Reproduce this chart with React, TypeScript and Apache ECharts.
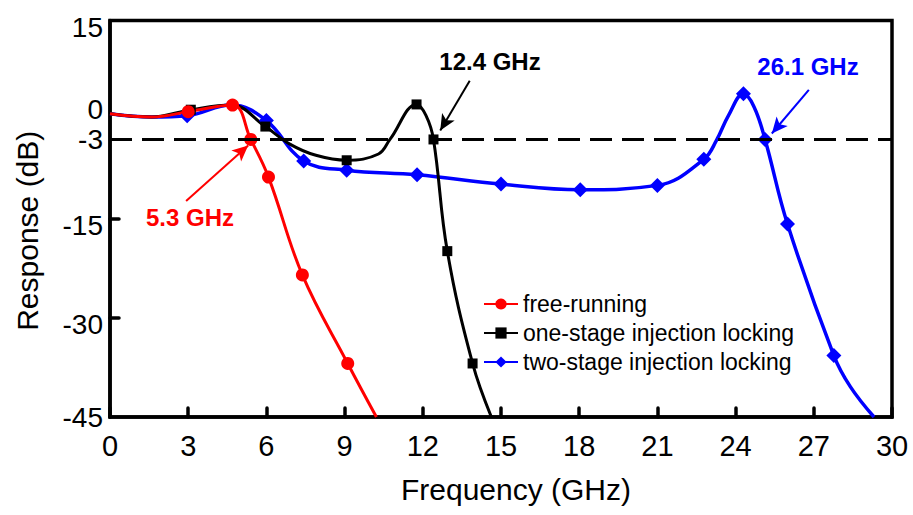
import React, { useEffect, useRef } from 'react';
import * as echarts from 'echarts';

// ---- data (GHz, dB) ----
const freeFreq = [0, 1.6, 3.0, 4.7, 5.4, 6.08, 7.38, 9.12, 10.22];
const freeDb = [0.9, 0.4, 1.2, 2.2, -3.0, -8.7, -23.5, -36.9, -45];
const freeMark = [false, false, true, true, true, true, true, true, false];

const oneFreq = [0, 1.6, 3.1, 4.65, 5.96, 6.9, 7.9, 9.08, 10.3, 10.74, 11.76, 12.12, 12.41, 12.94, 13.91, 14.63];
const oneDb = [0.9, 0.4, 1.5, 2.2, -1.05, -3.7, -5.4, -6.15, -5.2, -3.0, 2.3, 0.65, -3.0, -19.9, -36.9, -45];
const oneMark = [false, false, true, false, true, false, false, true, false, false, true, false, true, true, true, false];

const twoFreq = [0, 1.6, 2.96, 4.65, 6.0, 7.43, 9.08, 11.78, 15.0, 18.04, 21.0, 22.78, 23.27, 23.73, 24.3, 24.7, 25.13, 25.99, 27.77, 28.4, 29.31];
const twoDb = [0.9, 0.4, 0.6, 2.2, -0.15, -6.25, -7.65, -8.35, -9.75, -10.6, -9.95, -6.0, -3.1, 0.66, 3.9, 2.0, -3.0, -15.8, -35.7, -40.4, -45];
const twoMark = [false, false, true, false, true, true, true, true, true, true, true, true, false, false, true, false, true, true, true, false, false];

const seriesNames = ['free-running', 'one-stage injection locking', 'two-stage injection locking'];
const xTicks = [0, 3, 6, 9, 12, 15, 18, 21, 24, 27, 30];
const yLabels = [-45, -30, -15, -3, 0, 15];
const thresholdDb = -3;
const annotations = ['5.3 GHz', '12.4 GHz', '26.1 GHz'];

const FONT = '"Liberation Sans", Arial, Helvetica, sans-serif';

function build(freq: number[], db: number[], mark: boolean[]) {
  return freq.map((f, i) => (mark[i] ? { value: [f, db[i]] } : { value: [f, db[i]], symbol: 'none' }));
}

function arrow(from: number[], to: number[], color: string) {
  return {
    silent: true,
    symbol: ['none', 'arrow'],
    symbolSize: [11, 16],
    label: { show: false },
    emphasis: { disabled: true },
    lineStyle: { color, width: 2, type: 'solid' },
    data: [[{ coord: from }, { coord: to }]],
  };
}

export default function App() {
  const ref = useRef<HTMLDivElement>(null);
  useEffect(() => {
    document.body.style.margin = '0';
    const chart = echarts.init(ref.current!, null, { renderer: 'svg' });
    const axisLineStyle = { color: '#000', width: 3.5 };
    chart.setOption({
      animation: false,
      backgroundColor: '#fff',
      grid: { left: 110, right: 21, top: 19, bottom: 98, show: true, borderColor: '#000', borderWidth: 3.5 },
      legend: {
        data: seriesNames,
        orient: 'vertical',
        left: 478,
        top: 287,
        itemWidth: 34,
        itemHeight: 14,
        itemGap: 5,
        textStyle: { fontFamily: FONT, fontSize: 23, color: '#000', lineHeight: 24 },
      },
      xAxis: {
        type: 'value',
        min: xTicks[0],
        max: xTicks[xTicks.length - 1],
        interval: 3,
        name: 'Frequency (GHz)',
        nameLocation: 'middle',
        nameGap: 57,
        nameTextStyle: { fontFamily: FONT, fontSize: 30, color: '#000', padding: [0, 0, 0, 30] },
        axisLine: { onZero: false, lineStyle: axisLineStyle },
        axisTick: { inside: true, length: 9, lineStyle: { color: '#000', width: 3.5, cap: 'round' } },
        axisLabel: { fontFamily: FONT, fontSize: 29, color: '#000', margin: 14 },
        splitLine: { show: false },
      },
      yAxis: {
        type: 'value',
        min: -45,
        max: 15,
        interval: 15,
        name: 'Response (dB)',
        nameLocation: 'middle',
        nameRotate: 90,
        nameGap: 68,
        nameTextStyle: { fontFamily: FONT, fontSize: 30, color: '#000', padding: [0, 24, 0, 0] },
        axisLine: { onZero: false, lineStyle: axisLineStyle },
        axisTick: { inside: true, length: 9, customValues: [-30, -15], lineStyle: { color: '#000', width: 3.5, cap: 'round' } },
        axisLabel: {
          customValues: yLabels,
          fontFamily: FONT,
          fontSize: 28,
          lineHeight: 14,
          color: '#000',
          margin: 7,
          formatter: (v: number) => {
            if (v === 0) return '{u|0}';
            if (v === 15 || v === -15 || v === -30) return '{d|' + v + '}';
            return String(v);
          },
          rich: {
            u: { fontFamily: FONT, fontSize: 28, color: '#000', lineHeight: 14, padding: [0, 0, 20, 0] },
            d: { fontFamily: FONT, fontSize: 28, color: '#000', lineHeight: 14, padding: [13, 0, 0, 0] },
          },
        },
        splitLine: { show: false },
      },
      series: [
        {
          name: 'threshold',
          type: 'line',
          data: [],
          silent: true,
          markLine: {
            silent: true,
            symbol: ['none', 'none'],
            label: { show: false },
            lineStyle: { color: '#000', width: 3, type: [22, 10] },
            data: [{ yAxis: thresholdDb }],
          },
        },
        {
          name: seriesNames[2],
          type: 'line',
          smooth: 0.4,
          showAllSymbol: true,
          symbol: 'diamond',
          symbolSize: 15,
          color: '#0000ff',
          lineStyle: { color: '#0000ff', width: 3.5 },
          itemStyle: { color: '#0000ff' },
          data: build(twoFreq, twoDb, twoMark),
          markLine: arrow([26.81, 4.5], [25.39, -2.1], '#0000ff'),
        },
        {
          name: seriesNames[1],
          type: 'line',
          smooth: 0.4,
          showAllSymbol: true,
          symbol: 'rect',
          symbolSize: 10,
          color: '#000',
          lineStyle: { color: '#000', width: 3 },
          itemStyle: { color: '#000' },
          data: build(oneFreq, oneDb, oneMark),
          markLine: arrow([13.8, 5.9], [12.67, -1.65], '#000'),
        },
        {
          name: seriesNames[0],
          type: 'line',
          smooth: 0.4,
          showAllSymbol: true,
          symbol: 'circle',
          symbolSize: 13,
          color: '#ff0000',
          lineStyle: { color: '#ff0000', width: 3 },
          itemStyle: { color: '#ff0000' },
          data: build(freeFreq, freeDb, freeMark),
          markLine: arrow([2.92, -12.3], [5.3, -3.9], '#ff0000'),
        },
      ],
      graphic: [
        { type: 'text', x: 190, y: 217, style: { text: annotations[0], fill: '#ff0000', font: 'bold 24px ' + FONT, align: 'center', verticalAlign: 'middle' } },
        { type: 'text', x: 490, y: 61, style: { text: annotations[1], fill: '#000', font: 'bold 24px ' + FONT, align: 'center', verticalAlign: 'middle' } },
        { type: 'text', x: 808, y: 66, style: { text: annotations[2], fill: '#0000ff', font: 'bold 24px ' + FONT, align: 'center', verticalAlign: 'middle' } },
      ],
    });
    return () => chart.dispose();
  }, []);
  return <div ref={ref} style={{ width: 913, height: 515 }} />;
}
